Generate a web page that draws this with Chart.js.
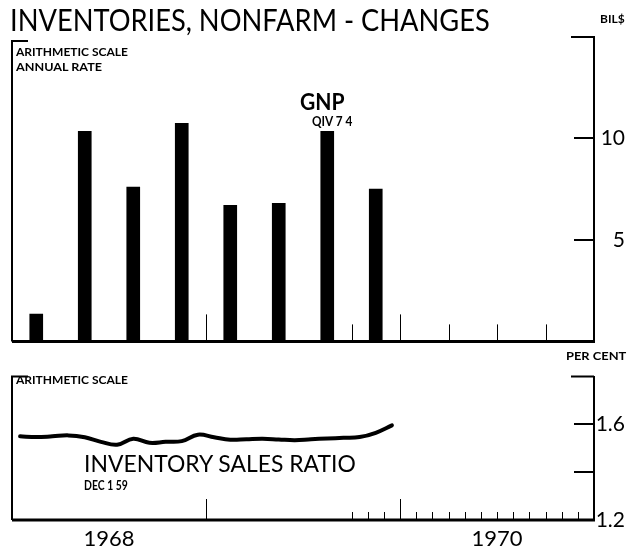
<!DOCTYPE html>
<html>
<head>
<meta charset="utf-8">
<title>Inventories, Nonfarm - Changes</title>
<script src="https://cdn.jsdelivr.net/npm/chart.js"></script>
<style>
  body { margin: 0; background: #fff; width: 630px; height: 546px; position: relative; overflow: hidden;
         font-family: Lato, 'DejaVu Sans', sans-serif; color: #000; }
  .t { position: absolute; white-space: nowrap; line-height: 1; transform-origin: left top; }
  .b { font-weight: bold; }
  canvas { position: absolute; left: 0; }
</style>
</head>
<body>
<canvas id="barChart" width="630" height="360" style="top:0"></canvas>
<canvas id="ratioChart" width="630" height="186" style="top:360px"></canvas>

<div class="t" data-w="480" style="left:10px;top:4px;font-size:31px">INVENTORIES, NONFARM - CHANGES</div>
<div class="t b" data-w="25" style="left:600px;top:13px;font-size:12px">BIL$</div>
<div class="t b" data-w="112" style="left:16px;top:46px;font-size:12px">ARITHMETIC SCALE</div>
<div class="t b" data-w="86" style="left:16px;top:61px;font-size:12px">ANNUAL RATE</div>
<div class="t b" data-w="45" style="left:300px;top:91px;font-size:22px">GNP</div>
<div class="t b" data-w="40" style="left:312px;top:115px;font-size:13px">QIV 7 4</div>
<div class="t b" data-w="60" style="left:566px;top:350px;font-size:12px">PER CENT</div>
<div class="t b" data-w="112" style="left:16px;top:374px;font-size:12px">ARITHMETIC SCALE</div>
<div class="t" data-w="272" style="left:84px;top:452px;font-size:23px">INVENTORY SALES RATIO</div>
<div class="t b" data-w="44" style="left:84px;top:479px;font-size:13px">DEC 1 59</div>

<script>
// quarterly change in nonfarm inventories, bil $ annual rate
const quarters = ['1968 Q1', '1968 Q2', '1968 Q3', '1968 Q4', '1969 Q1', '1969 Q2', '1969 Q3', '1969 Q4'];
const inventoryChange = [1.35, 10.35, 7.6, 10.75, 6.7, 6.8, 10.35, 7.5];

// monthly inventory / sales ratio, Jan 1968 - Dec 1969
const months = ['Jan 68', 'Feb 68', 'Mar 68', 'Apr 68', 'May 68', 'Jun 68', 'Jul 68', 'Aug 68', 'Sep 68', 'Oct 68', 'Nov 68', 'Dec 68',
                'Jan 69', 'Feb 69', 'Mar 69', 'Apr 69', 'May 69', 'Jun 69', 'Jul 69', 'Aug 69', 'Sep 69', 'Oct 69', 'Nov 69', 'Dec 69'];
const salesRatio = [1.55, 1.547, 1.55, 1.554, 1.546, 1.527, 1.515, 1.54, 1.523, 1.527, 1.53, 1.557,
                    1.546, 1.536, 1.538, 1.54, 1.537, 1.534, 1.538, 1.541, 1.544, 1.547, 1.565, 1.596];

// axis labels
const yearLabels = ['1968', '1970'];
const yearCenters = [6, 30];             // month position of each year label
const billionTicks = [5, 10];
const ratioLabelTicks = [1.2, 1.6];
const ratioMarkTicks = [1.4, 1.6];

// month boundaries that get a mark on the baseline
const barYearMarks = [12, 24];
const barQuarterMarks = [21, 27, 30, 33];
const ratioYearMarks = [12, 24];
const ratioMonthMarks = [21, 22, 23, 25, 26, 27, 28, 29, 30, 31, 32, 33, 34, 35];

const barPoints = inventoryChange.map((v, i) => ({ x: i * 3 + 1.5, y: v }));
const ratioPoints = salesRatio.map((v, i) => ({ x: i + 0.5, y: v }));

function frame(markTicks, yearMarks, minorMarks, opts) {
    return {
        id: 'frame',
        afterDraw(chart) {
            const { ctx, chartArea: a, scales } = chart;
            const x = scales.x, y = scales.y;
            ctx.save();
            ctx.strokeStyle = '#000';
            ctx.lineCap = 'butt';
            // left edge and corners
            ctx.lineWidth = 2;
            ctx.beginPath();
            ctx.moveTo(a.left, a.bottom);
            ctx.lineTo(a.left, a.top + opts.leftDrop);
            ctx.lineTo(a.left + 16, a.top + opts.leftDrop);
            ctx.moveTo(a.right, a.top);
            ctx.lineTo(a.right - 23, a.top);
            ctx.stroke();
            // baseline
            ctx.lineWidth = 3;
            ctx.beginPath();
            ctx.moveTo(a.left, a.bottom);
            ctx.lineTo(a.right + 1, a.bottom);
            ctx.stroke();
            // inward ticks on the right scale
            ctx.lineWidth = 2;
            ctx.beginPath();
            markTicks.forEach(v => {
                const py = Math.round(y.getPixelForValue(v));
                ctx.moveTo(a.right, py);
                ctx.lineTo(a.right - 20, py);
            });
            ctx.stroke();
            // time marks on the baseline
            ctx.lineWidth = 1;
            ctx.beginPath();
            yearMarks.forEach(m => {
                const px = Math.round(x.getPixelForValue(m)) + 0.5;
                ctx.moveTo(px, a.bottom);
                ctx.lineTo(px, a.bottom - opts.yearLen);
            });
            minorMarks.forEach(m => {
                const px = Math.round(x.getPixelForValue(m)) + 0.5;
                ctx.moveTo(px, a.bottom);
                ctx.lineTo(px, a.bottom - opts.minorLen);
            });
            ctx.stroke();
            ctx.restore();
        }
    };
}

new Chart(document.getElementById('barChart'), {
    type: 'bar',
    data: {
        datasets: [{
            label: 'Inventories, nonfarm - changes',
            data: barPoints,
            backgroundColor: '#000',
            borderWidth: 0,
            barThickness: 13
        }]
    },
    options: {
        responsive: false,
        animation: false,
        devicePixelRatio: 1,
        layout: { padding: { left: 12, top: 37, right: 5, bottom: 13 } },
        plugins: { legend: { display: false }, tooltip: { enabled: false } },
        scales: {
            x: { type: 'linear', min: 0, max: 36, offset: false, display: false },
            y: {
                position: 'right', min: 0, max: 15,
                grid: { display: false, drawTicks: false },
                border: { display: true, color: '#000', width: 2 },
                afterBuildTicks: s => { s.ticks = billionTicks.map(v => ({ value: v })); },
                afterFit: s => { s.width = 31; },
                ticks: {
                    color: '#000', padding: 6, crossAlign: 'far',
                    font: { family: 'Lato', size: 21 }
                }
            }
        }
    },
    plugins: [frame(billionTicks, barYearMarks, barQuarterMarks, { leftDrop: 4, yearLen: 27, minorLen: 17 })]
});

new Chart(document.getElementById('ratioChart'), {
    type: 'line',
    data: {
        datasets: [{
            label: 'Inventory sales ratio',
            data: ratioPoints,
            borderColor: '#000',
            borderWidth: 4,
            pointRadius: 0,
            tension: 0.4,
            borderCapStyle: 'round',
            fill: false
        }]
    },
    options: {
        responsive: false,
        animation: false,
        devicePixelRatio: 1,
        layout: { padding: { left: 12, top: 10, right: 5, bottom: 0 } },
        plugins: { legend: { display: false }, tooltip: { enabled: false } },
        scales: {
            x: {
                type: 'linear', min: 0, max: 36,
                grid: { display: false, drawTicks: false },
                border: { display: false },
                afterBuildTicks: s => { s.ticks = yearCenters.map(v => ({ value: v })); },
                afterFit: s => { s.height = 26; },
                ticks: {
                    color: '#000', padding: 6, maxRotation: 0,
                    font: { family: 'Lato', size: 22 },
                    callback: (v, i) => yearLabels[i]
                }
            },
            y: {
                position: 'right', min: 1.2, max: 1.8,
                grid: { display: false, drawTicks: false },
                border: { display: true, color: '#000', width: 2 },
                afterBuildTicks: s => { s.ticks = ratioLabelTicks.map(v => ({ value: v })); },
                afterFit: s => { s.width = 31; },
                ticks: {
                    color: '#000', padding: 4, crossAlign: 'far',
                    font: { family: 'Lato', size: 21 },
                    callback: v => v.toFixed(1)
                }
            }
        }
    },
    plugins: [frame(ratioMarkTicks, ratioYearMarks, ratioMonthMarks, { leftDrop: 0, yearLen: 21, minorLen: 8 })]
});

// squeeze each text block to the width it has in the original
document.querySelectorAll('.t').forEach(el => {
    const w = +el.dataset.w;
    el.style.transform = 'scaleX(' + (w / el.offsetWidth) + ')';
});
</script>
</body>
</html>
